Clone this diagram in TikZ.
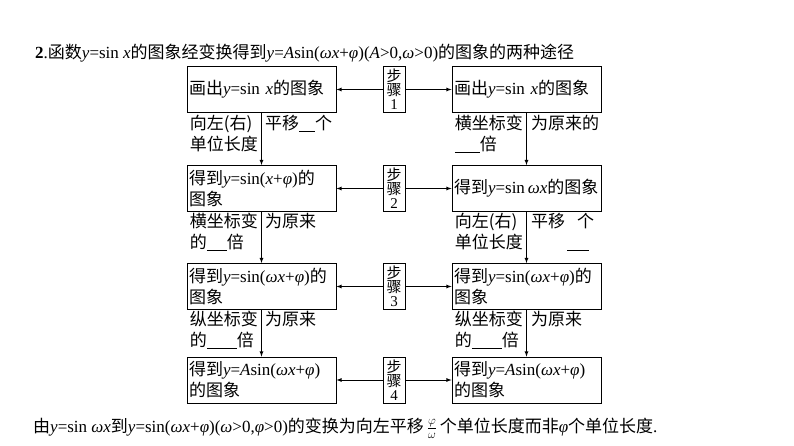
\documentclass[tikz,border=0pt]{standalone}
\usepackage{fontspec}
\setmainfont{Liberation Serif}
\newfontfamily\cjk{Noto Sans CJK SC}
\newcommand{\zh}[1]{{\cjk #1}}
\newcommand{\bk}[1]{\underline{\hspace{#1}}}
\begin{document}
\begin{tikzpicture}[x=1pt,y=-1pt,font=\fontsize{17}{21}\selectfont,
  box/.style={draw,thick,minimum width=149pt,minimum height=46pt,align=left,inner sep=2pt,text width=145pt},
  stepbox/.style={draw,thick,minimum width=22pt,minimum height=46pt,inner sep=1pt,align=center,font=\fontsize{15}{14}\selectfont},
  arr/.style={-latex,thick},
  lab/.style={align=left,inner sep=1pt}]
\useasboundingbox (0,0) rectangle (794,446);
\node[anchor=west,inner sep=0] (title) at (35,53) {\textbf{2}.\zh{函数}\textit{y}=sin \textit{x}\zh{的图象经变换得到}\textit{y}=\textit{A}sin(\textit{ωx}+\textit{φ})(\textit{A}>0,\textit{ω}>0)\zh{的图象的两种途径}};
% left column
\node[box] (L1) at (261.5,89.5) {\zh{画出}\textit{y}=sin \textit{x}\zh{的图象}};
\node[box] (L2) at (261.5,188.5) {\zh{得到}\textit{y}=sin(\textit{x}+\textit{φ})\zh{的}\\\zh{图象}};
\node[box] (L3) at (261.5,286.5) {\zh{得到}\textit{y}=sin(\textit{ωx}+\textit{φ})\zh{的}\\\zh{图象}};
\node[box] (L4) at (261.5,380) {\zh{得到}\textit{y}=\textit{A}sin(\textit{ωx}+\textit{φ})\\\zh{的图象}};
% right column
\node[box] (R1) at (526.5,89.5) {\zh{画出}\textit{y}=sin \textit{x}\zh{的图象}};
\node[box] (R2) at (526.5,188.5) {\mbox{\zh{得到}\textit{y}=sin\,\textit{ωx}\zh{的图象}}};
\node[box] (R3) at (526.5,286.5) {\zh{得到}\textit{y}=sin(\textit{ωx}+\textit{φ})\zh{的}\\\zh{图象}};
\node[box] (R4) at (526.5,380) {\zh{得到}\textit{y}=\textit{A}sin(\textit{ωx}+\textit{φ})\\\zh{的图象}};
% steps
\foreach \i/\y in {1/89.5,2/188.5,3/286.5,4/380}{
  \node[stepbox] (S\i) at (394,\y) {\zh{步}\\\zh{骤}\\\i};
  \draw[arr] (S\i) -- (L\i);
  \draw[arr] (S\i) -- (R\i);
}
\foreach \i/\j in {1/2,2/3,3/4}{
  \draw[arr] (L\i) -- (L\j);
  \draw[arr] (R\i) -- (R\j);
}
% left labels
\node[lab,anchor=north east] (la1) at (259,114) {\zh{向左(右)}\\\zh{单位长度}};
\node[lab,anchor=north west] (lb1) at (264,114) {\zh{平移}\bk{16pt}\zh{个}};
\node[lab,anchor=north east] (la2) at (259,212) {\zh{横坐标变}\\\zh{的}\bk{20pt}\zh{倍}};
\node[lab,anchor=north west] (lb2) at (264,212) {\zh{为原来}};
\node[lab,anchor=north east] (la3) at (259,310) {\zh{纵坐标变}\\\zh{的}\bk{30pt}\zh{倍}};
\node[lab,anchor=north west] (lb3) at (264,310) {\zh{为原来}};
% right labels
\node[lab,anchor=north east] (ra1) at (524,114) {\zh{横坐标变}\\\bk{25pt}\zh{倍}};
\node[lab,anchor=north west] (rb1) at (530,114) {\zh{为原来的}};
\node[lab,anchor=north east] (ra2) at (524,212) {\zh{向左(右)}\\\zh{单位长度}};
\node[lab,anchor=north west] (rb2) at (530,212) {\zh{平移}\hspace{12pt}\zh{个}\\\hspace{36pt}\bk{22pt}};
\node[lab,anchor=north east] (ra3) at (524,310) {\zh{纵坐标变}\\\zh{的}\bk{30pt}\zh{倍}};
\node[lab,anchor=north west] (rb3) at (530,310) {\zh{为原来}};
% bottom
\node[anchor=west,inner sep=0] (foot) at (33,428) {\zh{由}\textit{y}=sin \textit{ωx}\zh{到}\textit{y}=sin(\textit{ωx}+\textit{φ})(\textit{ω}>0,\textit{φ}>0)\zh{的变换为向左平移}\,$\frac{\varphi}{\omega}$\,\zh{个单位长度而非}\textit{φ}\zh{个单位长度}.};
\end{tikzpicture}
\end{document}
